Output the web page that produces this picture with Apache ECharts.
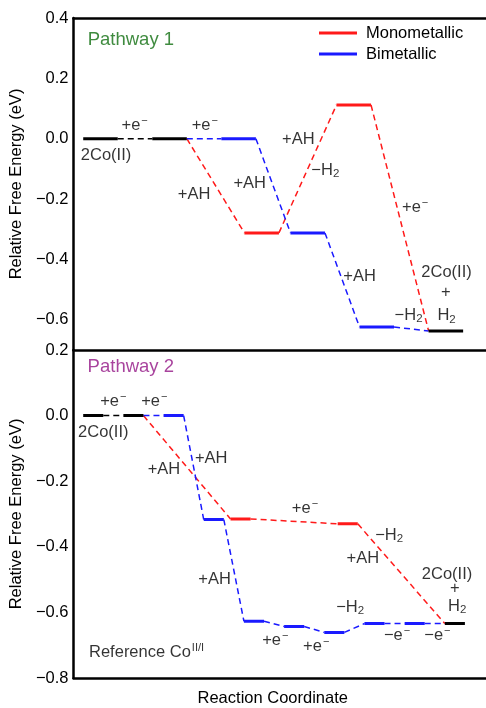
<!DOCTYPE html>
<html><head><meta charset="utf-8">
<script src="https://cdn.jsdelivr.net/npm/echarts@6/dist/echarts.min.js"></script>
<style>html,body{margin:0;padding:0;background:#fff}#c{width:486px;height:708px}</style>
</head><body><div id="c"></div>
<script>
// ---------- Pathway 1 (top panel) ----------
const p1CommonX = [0, 1, 2, 3];            // black: solid, dashed, solid
const p1CommonE = [0, 0, 0, 0];
const p1EndX = [10, 11];                   // black final level
const p1EndE = [-0.637, -0.637];
const p1MonoX = [3, 4.667, 5.667, 7.333, 8.333, 10];   // dashed, solid, dashed, ...
const p1MonoE = [0, -0.312, -0.312, 0.112, 0.112, -0.637];
const p1BiX = [3, 4, 5, 6, 7, 8, 9, 10];
const p1BiE = [0, 0, 0, -0.312, -0.312, -0.624, -0.624, -0.637];

// ---------- Pathway 2 (bottom panel) ----------
const p2CommonX = [0, 1, 2, 3];
const p2CommonE = [0, 0, 0, 0];
const p2EndX = [18, 19];
const p2EndE = [-0.634, -0.634];
const p2MonoX = [3, 7.333, 8.333, 12.667, 13.667, 18];
const p2MonoE = [0, -0.315, -0.315, -0.33, -0.33, -0.634];
const p2BiX = [3, 4, 5, 6, 7, 8, 9, 10, 11, 12, 13, 14, 15, 16, 17, 18];
const p2BiE = [0, 0, 0, -0.317, -0.317, -0.627, -0.627, -0.643, -0.643, -0.661, -0.661, -0.634, -0.634, -0.634, -0.634, -0.634];

// ---------- annotations [x, energy, text] ----------
const p1Labels = [
  [1.49, 0.045, '{t|+e}{s|−}'],
  [3.52, 0.045, '{t|+e}{s|−}'],
  [0.66, -0.054, '{t|2Co(II)}'],
  [3.21, -0.184, '{t|+AH}'],
  [4.82, -0.147, '{t|+AH}'],
  [6.23, -0.004, '{t|+AH}'],
  [7.01, -0.104, '{t|−H}{b|2}'],
  [9.61, -0.227, '{t|+e}{s|−}'],
  [8.0, -0.455, '{t|+AH}'],
  [10.52, -0.442, '{t|2Co(II)}'],
  [10.5, -0.508, '{t|+}'],
  [10.52, -0.587, '{t|H}{b|2}'],
  [9.42, -0.584, '{t|−H}{b|2}']
];
const p2Labels = [
  [1.5, 0.044, '{t|+e}{s|−}'],
  [3.54, 0.044, '{t|+e}{s|−}'],
  [1.0, -0.052, '{t|2Co(II)}'],
  [4.02, -0.163, '{t|+AH}'],
  [6.37, -0.13, '{t|+AH}'],
  [11.04, -0.283, '{t|+e}{s|−}'],
  [15.23, -0.365, '{t|−H}{b|2}'],
  [13.92, -0.437, '{t|+AH}'],
  [18.11, -0.485, '{t|2Co(II)}'],
  [18.5, -0.527, '{t|+}'],
  [18.62, -0.581, '{t|H}{b|2}'],
  [6.54, -0.5, '{t|+AH}'],
  [13.29, -0.584, '{t|−H}{b|2}'],
  [9.56, -0.686, '{t|+e}{s|−}'],
  [11.6, -0.704, '{t|+e}{s|−}'],
  [15.62, -0.671, '{t|−e}{s|−}'],
  [17.63, -0.671, '{t|−e}{s|−}']
];
const p1Title = [1.38, 0.326, 'Pathway 1'];
const p2Title = [2.37, 0.149, 'Pathway 2'];
const refLabel = [0.29, -0.722, '{t|Reference Co}{s|II/I}'];

const seriesNames = ['Monometallic', 'Bimetallic'];
const yTicks1 = [-0.7, 0.4];
const yTicks2 = [-0.8, 0.2];

// ---------- build ----------
const FONT = 'Liberation Sans, Arial, Helvetica, sans-serif';
const RED = '#ff1a1a', BLUE = '#1a1aff', BLACK = '#000', TXT = '#000';
const solidSeries = [], dashSeries = [];

function addPath(xs, es, color, name, startDashed, xi, yi) {
  for (let i = 0; i < xs.length - 1; i++) {
    const dashed = (i % 2 === 0) === startDashed;
    const s = {
      type: 'line', name: name, xAxisIndex: xi, yAxisIndex: yi,
      data: [[xs[i], es[i]], [xs[i + 1], es[i + 1]]],
      symbol: 'none', silent: true, animation: false,
      lineStyle: { color: color, width: dashed ? 1.5 : 3, type: dashed ? [6, 4] : 'solid', cap: 'butt' },
      itemStyle: { color: color },
      z: dashed ? 2 : 3
    };
    (dashed ? dashSeries : solidSeries).push(s);
  }
}
addPath(p1MonoX, p1MonoE, RED, seriesNames[0], true, 0, 0);
addPath(p1BiX, p1BiE, BLUE, seriesNames[1], true, 0, 0);
addPath(p1CommonX, p1CommonE, BLACK, 'common1', false, 0, 0);
addPath(p1EndX, p1EndE, BLACK, 'end1', false, 0, 0);
addPath(p2MonoX, p2MonoE, RED, seriesNames[0], true, 2, 1);
addPath(p2BiX, p2BiE, BLUE, seriesNames[1], true, 2, 1);
addPath(p2CommonX, p2CommonE, BLACK, 'common2', false, 2, 1);
addPath(p2EndX, p2EndE, BLACK, 'end2', false, 2, 1);

const rich = {
  t: { fontSize: 16.5, color: TXT, fontFamily: FONT, lineHeight: 20 },
  s: { fontSize: 11, color: TXT, fontFamily: FONT, lineHeight: 20, verticalAlign: 'top', padding: [0, 0, 0, 1] },
  b: { fontSize: 11.5, color: TXT, fontFamily: FONT, lineHeight: 20, verticalAlign: 'bottom', padding: [6, 0, 0, 0] }
};
function labelSeries(list, xi, yi) {
  return {
    type: 'scatter', xAxisIndex: xi, yAxisIndex: yi, symbolSize: 0, silent: true, animation: false, z: 5,
    data: list.map(d => ({ value: [d[0], d[1]], label: { formatter: d[2] } })),
    label: { show: true, position: 'inside', align: 'center', verticalAlign: 'middle', rich: rich, color: TXT }
  };
}
const titleSeries = [
  { type: 'scatter', xAxisIndex: 0, yAxisIndex: 0, symbolSize: 0, silent: true, animation: false,
    data: [[p1Title[0], p1Title[1]]],
    label: { show: true, position: 'inside', formatter: p1Title[2], fontSize: 18.5, color: '#0f6e0f', fontFamily: FONT } },
  { type: 'scatter', xAxisIndex: 2, yAxisIndex: 1, symbolSize: 0, silent: true, animation: false,
    data: [[p2Title[0], p2Title[1]]],
    label: { show: true, position: 'inside', formatter: p2Title[2], fontSize: 18.5, color: '#921485', fontFamily: FONT } },
  { type: 'scatter', xAxisIndex: 2, yAxisIndex: 1, symbolSize: 0, silent: true, animation: false,
    data: [[refLabel[0], refLabel[1]]],
    label: { show: true, position: 'right', distance: 0, formatter: refLabel[2], rich: rich } }
];

function fmt(v) {
  const r = Math.round(v * 10);
  if (r % 2 !== 0) return '';
  return (r / 10).toFixed(1).replace('-', '−');
}
const axLine = { show: true, onZero: false, lineStyle: { color: '#000', width: 2.5 } };
const xCommon = {
  type: 'value', axisLine: axLine, axisTick: { show: false }, axisLabel: { show: false },
  splitLine: { show: false }
};
const yCommon = {
  type: 'value', axisLine: axLine, axisTick: { show: false }, splitLine: { show: false },
  axisLabel: { formatter: fmt, fontSize: 16.5, color: TXT, fontFamily: FONT, margin: 5 },
  name: 'Relative Free Energy (eV)', nameLocation: 'middle', nameGap: 40,
  nameTextStyle: { fontSize: 16.5, color: TXT, fontFamily: FONT }
};

const option = {
  backgroundColor: '#fff',
  animation: false,
  textStyle: { fontFamily: FONT },
  grid: [
    { left: 72, right: -10, top: 18, height: 332 },
    { left: 72, right: -10, top: 350, height: 333 }
  ],
  xAxis: [
    Object.assign({}, xCommon, { gridIndex: 0, min: -0.282, max: 11.662, position: 'bottom' }),
    Object.assign({}, xCommon, { gridIndex: 0, min: -0.282, max: 11.662, position: 'top' }),
    Object.assign({}, xCommon, { gridIndex: 1, min: -0.484, max: 20.05, position: 'bottom',
      name: 'Reaction Coordinate', nameLocation: 'middle', nameGap: 12,
      nameTextStyle: { fontSize: 16.5, color: TXT, fontFamily: FONT, padding: [0, 14, 0, 0] } })
  ],
  yAxis: [
    Object.assign({}, yCommon, { gridIndex: 0, min: yTicks1[0], max: yTicks1[1], interval: 0.1 }),
    Object.assign({}, yCommon, { gridIndex: 1, min: yTicks2[0], max: yTicks2[1], interval: 0.1 })
  ],
  legend: {
    data: seriesNames.map(n => ({ name: n, icon: 'rect' })),
    orient: 'vertical', left: 319, top: 24.5, padding: 0, itemWidth: 38, itemHeight: 3, itemGap: 4,
    textStyle: { fontSize: 16.5, color: TXT, fontFamily: FONT, padding: [0, 0, 0, 4] },
    selectedMode: false
  },
  series: solidSeries.concat(dashSeries, [labelSeries(p1Labels, 0, 0), labelSeries(p2Labels, 2, 1)], titleSeries)
};
const chart = echarts.init(document.getElementById('c'), null, { renderer: 'canvas' });
chart.setOption(option);
</script></body></html>
